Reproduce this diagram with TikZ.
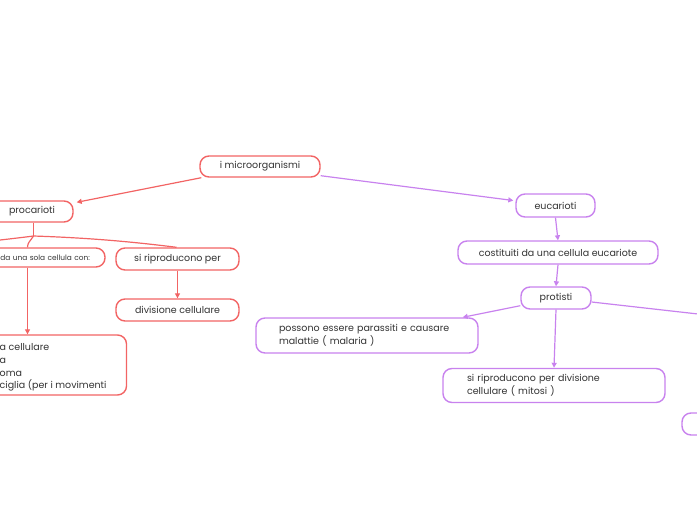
\documentclass[tikz,border=0pt]{standalone}
\usepackage{fontspec}
\setmainfont{Poppins}
\usetikzlibrary{arrows.meta}
\definecolor{procred}{RGB}{242,100,100}
\definecolor{eucpurple}{RGB}{200,130,238}
\definecolor{inkgray}{RGB}{51,51,51}

\begin{document}
\begin{tikzpicture}[x=1pt,y=-1pt,
  box/.style={draw,line width=1.4pt,rounded corners=9pt,fill=white,text=inkgray,
    font=\fontsize{9.5}{12.6}\selectfont,inner sep=0pt,minimum height=22pt},
  redbox/.style={box,draw=procred},
  purplebox/.style={box,draw=eucpurple},
  redline/.style={procred,line width=1.2pt},
  purpleline/.style={eucpurple,line width=1.2pt},
  headed/.style={-{Triangle[length=5pt,width=5pt]}}
]
\useasboundingbox (0,0) rectangle (697,520);

% root
\node[redbox,minimum width=120pt,minimum height=21pt] (root) at (260,166.5) {i microorganismi};

% procarioti side
\node[redbox,minimum width=82pt,minimum height=21pt] (proc) at (32,211.5) {procarioti};
\node[redbox,font=\fontsize{7.4}{8}\selectfont,minimum height=19pt,text width=150pt,align=right,inner xsep=15pt] (dasola) at (15,257.5) {da una sola cellula con:};
\node[redbox,anchor=west,align=left,inner xsep=20pt,minimum height=60pt] (cellbox) at (-21,365) {\rule{0pt}{12pt}a cellulare\\a\\oma\\ciglia (per i movimenti};
\node[redbox,minimum width=123pt] (sirip) at (177.5,259) {si riproducono per};
\node[redbox,minimum width=123pt] (divcell) at (177.5,310) {divisione cellulare};

% eucarioti side
\node[purplebox,minimum width=79pt,minimum height=23pt] (euc) at (555.5,205.5) {eucarioti};
\node[purplebox,minimum width=200pt,minimum height=23pt] (cost) at (558,252.5) {costituiti da una cellula eucariote};
\node[purplebox,minimum width=70pt] (prot) at (556,298) {protisti};
\node[purplebox,minimum width=222pt,minimum height=35pt,text width=176pt,align=left] (paras) at (367,335.5) {possono essere parassiti e causare\\malattie ( malaria )};
\node[purplebox,minimum width=222pt,minimum height=34pt,text width=174pt,align=left] (mitosi) at (554,385.5) {si riproducono per divisione\\cellulare ( mitosi )};
\node[purplebox,minimum width=98pt] (farbox) at (731,424) {};

\coordinate (fork) at (33.5,236);
\coordinate (offleft) at (-40,244);
\coordinate (offright) at (760,321);

% connectors
\draw[redline,headed] ([xshift=2pt]root.south west) -- ([xshift=3pt,yshift=-2pt]proc.north east);
\draw[purpleline,headed] ([yshift=2pt]root.south east) -- ([xshift=-2pt,yshift=5pt]euc.west);

\draw[redline] ([xshift=1.5pt]proc.south) -- (fork);
\draw[redline] (fork) .. controls +(-15,2) and +(15,-1) .. (offleft);
\draw[redline] (fork) .. controls +(-3,5) and +(0,-5) .. ([xshift=12.5pt]dasola.north);
\draw[redline] (fork) .. controls +(60,2) and +(-40,-5) .. ([xshift=-1pt]sirip.north);
\draw[redline,headed] ([xshift=12.5pt]dasola.south) -- ([xshift=12.5pt]dasola.south |- cellbox.north);
\draw[redline,headed] (sirip.south) -- (divcell.north);

\draw[purpleline,headed] (euc.south) -- (cost.north);
\draw[purpleline,headed] (cost.south) -- (prot.north);
\draw[purpleline,headed] ([yshift=4pt]prot.south west) -- ([xshift=-16pt]paras.north east);
\draw[purpleline,headed] (prot.south) -- (mitosi.north);
\draw[purpleline,headed] ([yshift=-4pt]prot.east) -- (offright);
\end{tikzpicture}
\end{document}
